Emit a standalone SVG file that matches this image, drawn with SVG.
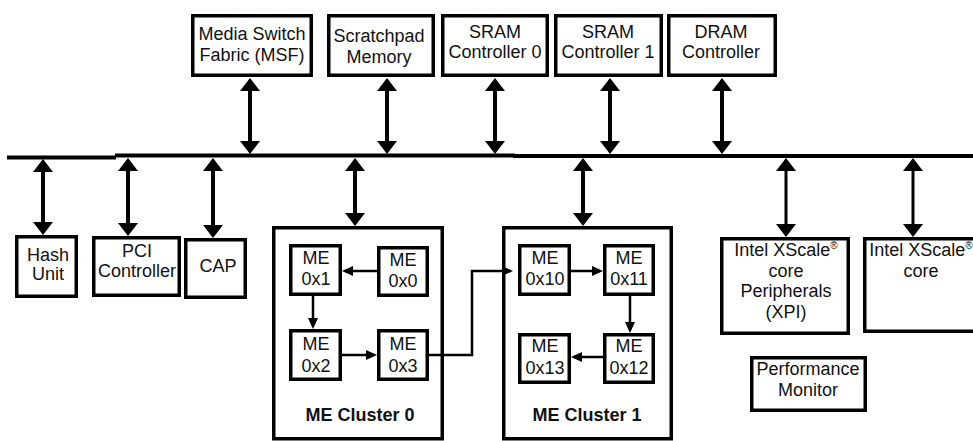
<svg xmlns="http://www.w3.org/2000/svg" width="973" height="441" viewBox="0 0 973 441">
<style>
.box{fill:#fff;stroke:#000;stroke-width:3.5}
.t{font-family:"Liberation Sans",Arial,sans-serif;font-size:18px;fill:#111;text-anchor:middle}
.b{font-weight:bold}
.bus{stroke:#000;stroke-width:4;fill:none}
.big{stroke:#000;stroke-width:4;fill:none;marker-start:url(#ah);marker-end:url(#ah)}
.sm{stroke:#000;stroke-width:2.5;fill:none;marker-end:url(#as)}
.sup{font-size:10px}
</style>
<defs>
<marker id="ah" viewBox="0 0 13 20" refX="9" refY="10" markerWidth="13" markerHeight="20" markerUnits="userSpaceOnUse" orient="auto-start-reverse"><path d="M0,0 L13,10 L0,20 z" fill="#000"/></marker>
<marker id="as" viewBox="0 0 11 10" refX="8" refY="5" markerWidth="11" markerHeight="10" markerUnits="userSpaceOnUse" orient="auto"><path d="M0,0 L11,5 L0,10 z" fill="#000"/></marker>
</defs>

<g id="msf"><rect class="box" x="192.75" y="15.75" width="118.5" height="59.5"/><text class="t" x="252" y="40">Media Switch</text><text class="t" x="252" y="61">Fabric (MSF)</text></g>
<g id="scratchpad"><rect class="box" x="328.75" y="15.75" width="104.5" height="59.5"/><text class="t" x="379" y="42">Scratchpad</text><text class="t" x="379" y="63">Memory</text></g>
<g id="sram0"><rect class="box" x="442.75" y="15.75" width="104.5" height="59.5"/><text class="t" x="495" y="38">SRAM</text><text class="t" x="495" y="58">Controller 0</text></g>
<g id="sram1"><rect class="box" x="555.75" y="15.75" width="105.5" height="59.5"/><text class="t" x="608" y="38">SRAM</text><text class="t" x="608" y="58">Controller 1</text></g>
<g id="dram"><rect class="box" x="668.75" y="15.75" width="106.5" height="59.5"/><text class="t" x="721" y="38">DRAM</text><text class="t" x="721" y="58">Controller</text></g>

<g id="hash"><rect class="box" x="16.75" y="236.75" width="59.5" height="59.5"/><text class="t" x="48" y="261">Hash</text><text class="t" x="48" y="280">Unit</text></g>
<g id="pci"><rect class="box" x="93.75" y="237.75" width="85.5" height="57.5"/><text class="t" x="137" y="257">PCI</text><text class="t" x="137" y="277">Controller</text></g>
<g id="cap"><rect class="box" x="185.75" y="239.75" width="59.5" height="57.5"/><text class="t" x="218" y="272">CAP</text></g>

<g id="cluster0"><rect class="box" x="273.75" y="227.75" width="168.5" height="211"/><text class="t b" x="360" y="421">ME Cluster 0</text></g>
<g id="me0x1"><rect class="box" x="290.75" y="245.75" width="49.5" height="48.5"/><text class="t" x="316" y="264">ME</text><text class="t" x="316" y="285">0x1</text></g>
<g id="me0x0"><rect class="box" x="378.75" y="247.75" width="48.5" height="47.5"/><text class="t" x="403" y="266">ME</text><text class="t" x="403" y="287">0x0</text></g>
<g id="me0x2"><rect class="box" x="290.75" y="330.75" width="49.5" height="48.5"/><text class="t" x="316" y="350">ME</text><text class="t" x="316" y="372">0x2</text></g>
<g id="me0x3"><rect class="box" x="378.75" y="330.75" width="48.5" height="48.5"/><text class="t" x="403" y="350">ME</text><text class="t" x="403" y="372">0x3</text></g>

<g id="cluster1"><rect class="box" x="503.75" y="227.75" width="167.5" height="211"/><text class="t b" x="587" y="421">ME Cluster 1</text></g>
<g id="me0x10"><rect class="box" x="519.75" y="245.75" width="49.5" height="48.5"/><text class="t" x="545" y="264">ME</text><text class="t" x="545" y="285">0x10</text></g>
<g id="me0x11"><rect class="box" x="604.75" y="245.75" width="48.5" height="48.5"/><text class="t" x="629" y="264">ME</text><text class="t" x="629" y="285">0x11</text></g>
<g id="me0x13"><rect class="box" x="519.75" y="334.75" width="49.5" height="47.5"/><text class="t" x="545" y="352">ME</text><text class="t" x="545" y="374">0x13</text></g>
<g id="me0x12"><rect class="box" x="604.75" y="334.75" width="48.5" height="47.5"/><text class="t" x="629" y="352">ME</text><text class="t" x="629" y="374">0x12</text></g>

<g id="xpi"><rect class="box" x="721.75" y="238.75" width="126.5" height="94.5"/><text class="t" x="786" y="256">Intel XScale<tspan class="sup" dy="-7">®</tspan></text><text class="t" x="786" y="277">core</text><text class="t" x="786" y="297">Peripherals</text><text class="t" x="786" y="318">(XPI)</text></g>
<g id="xscale"><rect class="box" x="864.75" y="238.75" width="120" height="92.5"/><text class="t" x="921" y="256">Intel XScale<tspan class="sup" dy="-7">®</tspan></text><text class="t" x="921" y="277">core</text></g>
<g id="perfmon"><rect class="box" x="751.75" y="357.75" width="113.5" height="52.5"/><text class="t" x="808" y="375">Performance</text><text class="t" x="808" y="396">Monitor</text></g>

<g id="connectors">
<line class="bus" x1="7" y1="157.5" x2="116" y2="157.5"/>
<line class="bus" x1="115" y1="155.5" x2="515" y2="155.5"/>
<line class="bus" x1="513" y1="156" x2="973" y2="156"/>
<line class="big" x1="250" y1="82" x2="250" y2="150"/>
<line class="big" x1="387" y1="82" x2="387" y2="150"/>
<line class="big" x1="495" y1="82" x2="495" y2="150"/>
<line class="big" x1="610" y1="82" x2="610" y2="150"/>
<line class="big" x1="722" y1="82" x2="722" y2="150"/>
<line class="big" x1="43" y1="163" x2="43" y2="231"/>
<line class="big" x1="128" y1="162" x2="128" y2="232"/>
<line class="big" x1="213" y1="162" x2="213" y2="234"/>
<line class="big" x1="355" y1="162" x2="355" y2="222"/>
<line class="big" x1="583" y1="162" x2="583" y2="222"/>
<line class="big" x1="786" y1="162" x2="786" y2="233" style="stroke-width:3"/>
<line class="big" x1="913" y1="162" x2="913" y2="233" style="stroke-width:3"/>
<line class="sm" x1="377" y1="271" x2="345" y2="271"/>
<line class="sm" x1="313" y1="296" x2="313" y2="326"/>
<line class="sm" x1="342" y1="355" x2="374" y2="355"/>
<path class="sm" d="M429,355 H472 V271 H510"/>
<line class="sm" x1="571" y1="271" x2="600" y2="271"/>
<line class="sm" x1="630" y1="296" x2="630" y2="330"/>
<line class="sm" x1="603" y1="357" x2="574" y2="357"/>
</g>
</svg>
